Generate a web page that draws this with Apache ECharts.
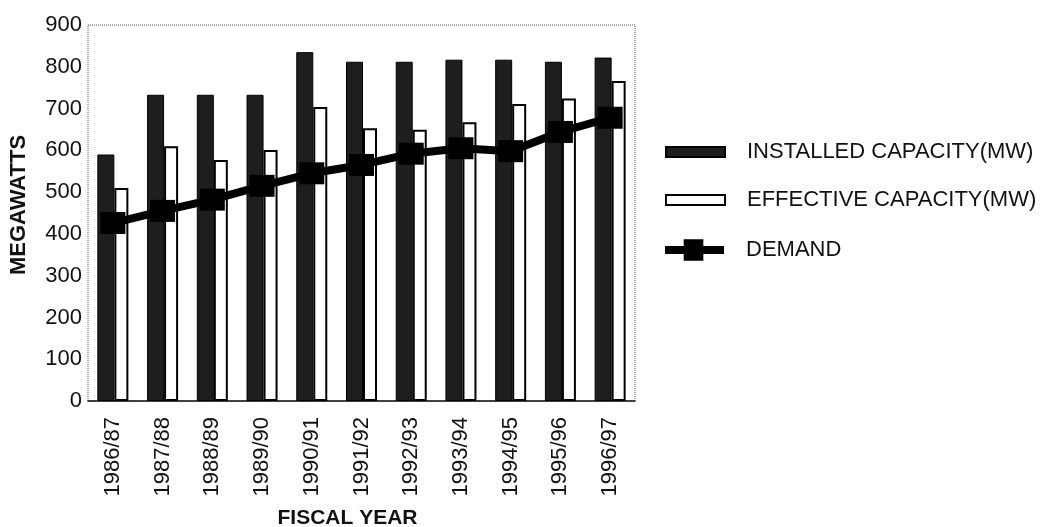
<!DOCTYPE html>
<html>
<head>
<meta charset="utf-8">
<script src="https://cdn.jsdelivr.net/npm/echarts@6/dist/echarts.min.js"></script>
<style>
html,body{margin:0;padding:0;background:#fff;}
#chart{width:1054px;height:527px;}
</style>
</head>
<body>
<div id="chart"></div>
<script>
const categories = ['1986/87','1987/88','1988/89','1989/90','1990/91','1991/92','1992/93','1993/94','1994/95','1995/96','1996/97'];
const installedCapacity = [590, 733, 733, 733, 835, 812, 812, 817, 817, 812, 822];
const effectiveCapacity = [510, 610, 577, 601, 704, 653, 649, 667, 711, 724, 766];
const demand = [426, 455, 482, 515, 545, 565, 592, 605, 598, 644, 678];
const yTicks = {min: 0, max: 900, interval: 100};

const FONT = 'Liberation Sans, Arial, Helvetica, sans-serif';
const chart = echarts.init(document.getElementById('chart'));
chart.setOption({
  backgroundColor: '#fff',
  animation: false,
  textStyle: {fontFamily: FONT, color: '#111'},
  grid: {
    left: 88, right: 419, top: 25, bottom: 126,
    containLabel: false,
    outerBoundsMode: 'none',
    show: true, borderColor: '#555', borderWidth: 1, borderType: 'dotted'
  },
  legend: [
    {
      data: ['INSTALLED CAPACITY(MW)', 'EFFECTIVE CAPACITY(MW)'],
      orient: 'vertical', left: 660, top: 136,
      itemWidth: 59, itemHeight: 10, itemGap: 26,
      icon: 'rect',
      textStyle: {fontFamily: FONT, fontSize: 22, color: '#111', padding: [0, 0, 0, 17]}
    },
    {
      data: [{name: 'DEMAND', icon: 'path://M0,7 L19,7 L19,0 L39,0 L39,7 L60,7 L60,15 L39,15 L39,22 L19,22 L19,15 L0,15 Z'}],
      orient: 'vertical', left: 660, top: 234,
      itemWidth: 59, itemHeight: 22,
      textStyle: {fontFamily: FONT, fontSize: 22, color: '#111', padding: [0, 0, 0, 17]}
    }
  ],
  xAxis: {
    type: 'category',
    data: categories,
    name: 'FISCAL YEAR',
    nameLocation: 'middle',
    nameGap: 107,
    nameTextStyle: {fontFamily: FONT, fontSize: 21, fontWeight: 'bold', color: '#111', padding: [0, 28, 0, 0]},
    axisLine: {show: true, lineStyle: {color: '#111', width: 1.5}},
    axisTick: {show: false},
    axisLabel: {rotate: 90, fontSize: 22, color: '#111', margin: 16, fontFamily: FONT}
  },
  yAxis: {
    type: 'value',
    min: yTicks.min, max: yTicks.max, interval: yTicks.interval,
    name: 'MEGAWATTS',
    nameLocation: 'middle',
    nameGap: 58,
    nameRotate: 90,
    nameTextStyle: {fontFamily: FONT, fontSize: 22, fontWeight: 'bold', color: '#111', padding: [0, 0, 0, 16]},
    axisLine: {show: false},
    axisTick: {show: false},
    splitLine: {show: false},
    axisLabel: {fontSize: 22, color: '#111', margin: 6, fontFamily: FONT}
  },
  series: [
    {
      name: 'INSTALLED CAPACITY(MW)',
      type: 'bar',
      data: installedCapacity,
      barWidth: 17,
      barGap: '0%',
      itemStyle: {color: '#1e1e1e', borderColor: '#000', borderWidth: 1}
    },
    {
      name: 'EFFECTIVE CAPACITY(MW)',
      type: 'bar',
      data: effectiveCapacity,
      barWidth: 14,
      barGap: '0%',
      itemStyle: {color: '#fff', borderColor: '#000', borderWidth: 2}
    },
    {
      name: 'DEMAND',
      type: 'line',
      data: demand,
      z: 5,
      symbol: 'rect',
      symbolSize: [25, 22],
      lineStyle: {color: '#000', width: 8},
      itemStyle: {color: '#000'}
    }
  ]
});
</script>
</body>
</html>
